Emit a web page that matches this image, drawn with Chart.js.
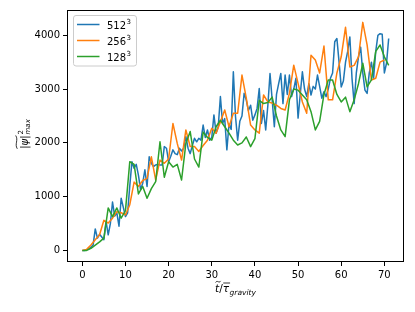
<!DOCTYPE html>
<html>
<head>
<meta charset="utf-8">
<script src="https://cdn.jsdelivr.net/npm/chart.js@4.4.1/dist/chart.umd.min.js"></script>
<style>
	html, body { margin: 0; padding: 0; background: #fff; }
</style>
</head>
<body>
<canvas id="chart" width="415" height="312"></canvas>
<script>
// series labels (resolution, drawn with a superscript 3)
const seriesNames = ['512', '256', '128'];
const seriesColors = ['#1f77b4', '#ff7f0e', '#2ca02c'];

// time step of each run
const step512 = 0.5;
const step256 = 1;
const step128 = 1;

// |psi|^2 max
const values512 = [
	0, 0, 10, 30, 60, 100, 400, 230, 300, 250,
	200, 540, 290, 500, 900, 640, 700, 450, 970, 800,
	630, 700, 1200, 1650, 1530, 1600, 1400, 1130, 1250, 1500,
	1190, 1740, 1620, 1560, 1590, 1600, 1590, 1590, 1930, 1900,
	1650, 1750, 1870, 1800, 1780, 1900, 1850, 1900, 2115, 1900,
	1800, 1950, 2085, 2020, 2085, 2050, 2330, 2100, 2240, 2050,
	2100, 2520, 2180, 2300, 2860, 2360, 2450, 1870, 2350, 2250,
	3320, 2490, 2050, 2400, 2500, 2920, 2795, 2600, 2700, 2420,
	2520, 2640, 3010, 2360, 2600, 2240, 2700, 3290, 2800, 2300,
	2900, 3100, 3290, 2730, 3260, 2900, 3260, 2860, 3000, 3200,
	2460, 2900, 3320, 3000, 2860, 3100, 2890, 3050, 3000, 3260,
	3050, 2830, 2950, 2860, 3000, 3200, 3300, 3880, 3940, 3500,
	3040, 3150, 3500, 3700, 3970, 3200, 2730, 3300, 3600, 3780,
	3300, 2980, 2920, 3300, 3500, 3200, 3700, 4000, 4030, 4020,
	3300, 3480, 3940,
];
const values256 = [
	0, 20, 100, 200, 290, 560, 510, 600, 720, 700,
	660, 850, 1270, 1190, 1300, 1340, 1740, 1310, 1680, 1620,
	1700, 2360, 1990, 1680, 2240, 1930, 1930, 1840, 1950, 2050,
	2270, 2180, 2390, 2610, 2300, 2550, 2550, 3260, 2830, 2330,
	2240, 2180, 2890, 2760, 2740, 2700, 2640, 2610, 2920, 3445,
	3105, 2760, 2550, 3630, 3540, 3300, 3800, 2800, 2800, 3300,
	3600, 4150, 3410, 3440, 3600, 4240, 3820, 3170, 3200, 3500,
	3540,
];
const values128 = [
	0, 0, 40, 100, 160, 230, 790, 630, 790, 600,
	740, 1650, 1600, 1050, 1190, 970, 1150, 1280, 2020, 1360,
	1650, 1550, 1600, 1310, 1990, 2210, 1700, 1550, 2200, 2100,
	2050, 2300, 2420, 2300, 2180, 2050, 1960, 2000, 2110, 1930,
	2080, 2790, 2730, 2750, 2850, 2500, 2240, 2115, 2800, 3000,
	2980, 2890, 2800, 2580, 2240, 2400, 2900, 3170, 3170, 2900,
	2760, 2850, 2580, 2800, 3100, 3480, 3040, 3170, 3700, 3820,
	3600, 3440,
];

const xTicks = [0, 10, 20, 30, 40, 50, 60, 70];
const yTicks = [0, 1000, 2000, 3000, 4000];

const FONT = 'DejaVu Sans';

function toPoints(vals, dt) {
	return vals.map((v, i) => ({ x: i * dt, y: v }));
}

// tilde drawn as a small wave
function tilde(ctx, x0, x1, y) {
	const w = x1 - x0;
	ctx.beginPath();
	ctx.moveTo(x0, y + 0.8);
	ctx.bezierCurveTo(x0 + w * 0.35, y - 2.2, x0 + w * 0.65, y + 2.2, x1, y - 0.8);
	ctx.stroke();
}

const decorations = {
	id: 'decorations',
	afterDatasetsDraw(chart) {
		const ctx = chart.ctx;
		const a = chart.chartArea;
		ctx.save();

		// frame
		ctx.strokeStyle = '#000';
		ctx.lineWidth = 1;
		ctx.strokeRect(Math.round(a.left) + 0.5, Math.round(a.top) + 0.5,
			Math.round(a.right - a.left) - 1, Math.round(a.bottom - a.top) - 1);

		// legend
		const lx = 73.5, ly = 15.5, lw = 63, lh = 50.5;
		ctx.beginPath();
		ctx.roundRect(lx, ly, lw, lh, 2.5);
		ctx.fillStyle = 'rgba(255,255,255,0.8)';
		ctx.fill();
		ctx.strokeStyle = '#cccccc';
		ctx.lineWidth = 1;
		ctx.stroke();
		chart.data.datasets.forEach((ds, i) => {
			const y = 24.5 + i * 16;
			ctx.strokeStyle = ds.borderColor;
			ctx.lineWidth = 1.5;
			ctx.beginPath();
			ctx.moveTo(77, y);
			ctx.lineTo(99.5, y);
			ctx.stroke();
			ctx.fillStyle = '#000';
			ctx.textAlign = 'left';
			ctx.textBaseline = 'alphabetic';
			ctx.font = '10px ' + FONT;
			ctx.fillText(ds.label, 107, y + 4.3);
			const w = ctx.measureText(ds.label).width;
			ctx.font = '7px ' + FONT;
			ctx.fillText('3', 107 + w + 0.5, y - 0.2);
		});

		// x axis title
		ctx.fillStyle = '#000';
		ctx.strokeStyle = '#000';
		ctx.lineWidth = 0.8;
		ctx.textBaseline = 'alphabetic';
		ctx.textAlign = 'left';
		const fMain = 'italic 10.5px ' + FONT;
		const fUp = '10.5px ' + FONT;
		const fSub = 'italic 7.5px ' + FONT;
		ctx.font = fMain;
		const wt = ctx.measureText('t').width;
		const wtau = ctx.measureText('τ').width;
		ctx.font = fUp;
		const wsl = ctx.measureText('/').width;
		ctx.font = fSub;
		const wg = ctx.measureText('gravity').width;
		const total = wt + wsl + wtau + wg + 0.5;
		let x = (a.left + a.right) / 2 - total / 2;
		const by = 291.5;
		ctx.font = fMain;
		ctx.fillText('t', x, by);
		tilde(ctx, x + 0.5, x + wt + 1.5, by - 9.8);
		x += wt;
		ctx.font = fUp;
		ctx.fillText('/', x, by);
		x += wsl;
		ctx.font = fMain;
		ctx.fillText('τ', x, by);
		ctx.beginPath();
		ctx.moveTo(x + 0.5, by - 8.5);
		ctx.lineTo(x + wtau + 1, by - 8.5);
		ctx.stroke();
		x += wtau + 0.5;
		ctx.font = fSub;
		ctx.fillText('gravity', x, by + 3.2);

		// y axis title, rotated
		ctx.save();
		ctx.translate(27.5, (a.top + a.bottom) / 2 - 2);
		ctx.rotate(-Math.PI / 2);
		const yMain = '10px ' + FONT;
		const yPsi = 'italic 10px ' + FONT;
		const ySub = 'italic 7px ' + FONT;
		const ySup = '7px ' + FONT;
		ctx.font = yMain;
		const wb = ctx.measureText('|').width;
		ctx.font = yPsi;
		const wp = ctx.measureText('ψ').width;
		ctx.font = ySub;
		const wm = ctx.measureText('max').width;
		const tot = wb * 2 + wp + 1 + wm;
		let u = -tot / 2;
		const u0 = u;
		ctx.font = yMain;
		ctx.fillText('|', u, 0);
		u += wb;
		ctx.font = yPsi;
		ctx.fillText('ψ', u, 0);
		u += wp;
		ctx.font = yMain;
		ctx.fillText('|', u, 0);
		u += wb;
		tilde(ctx, u0, u, -11);
		u += 1;
		ctx.font = ySup;
		ctx.fillText('2', u, -5);
		ctx.font = ySub;
		ctx.fillText('max', u, 2.8);
		ctx.restore();

		ctx.restore();
	},
};

const ctx = document.getElementById('chart').getContext('2d');
const myChart = new Chart(ctx, {
	type: 'line',
	data: {
		datasets: [
			{
				label: seriesNames[0],
				data: toPoints(values512, step512),
				borderColor: seriesColors[0],
				order: 3,
			},
			{
				label: seriesNames[1],
				data: toPoints(values256, step256),
				borderColor: seriesColors[1],
				order: 2,
			},
			{
				label: seriesNames[2],
				data: toPoints(values128, step128),
				borderColor: seriesColors[2],
				order: 1,
			},
		],
	},
	options: {
		responsive: false,
		animation: false,
		devicePixelRatio: 1,
		layout: { padding: { top: 10, right: 11, left: 0, bottom: 0 } },
		elements: {
			point: { radius: 0 },
			line: { borderWidth: 1.5, tension: 0, fill: false, borderJoinStyle: 'round' },
		},
		plugins: {
			legend: { display: false },
			tooltip: { enabled: false },
		},
		scales: {
			x: {
				type: 'linear',
				min: -3.55,
				max: 74.55,
				afterBuildTicks: (scale) => { scale.ticks = xTicks.map(v => ({ value: v })); },
				afterFit: (scale) => { scale.height = 50; },
				border: { display: false },
				grid: { drawOnChartArea: false, drawTicks: true, tickLength: 4, tickColor: '#000' },
				ticks: {
					color: '#000',
					padding: 3,
					autoSkip: false,
					maxRotation: 0,
					font: { family: FONT, size: 10 },
					callback: v => String(v),
				},
			},
			y: {
				type: 'linear',
				min: -215,
				max: 4470,
				afterBuildTicks: (scale) => { scale.ticks = yTicks.map(v => ({ value: v })); },
				afterFit: (scale) => { scale.width = 67; },
				border: { display: false },
				grid: { drawOnChartArea: false, drawTicks: true, tickLength: 4, tickColor: '#000' },
				ticks: {
					color: '#000',
					padding: 3,
					autoSkip: false,
					font: { family: FONT, size: 10 },
					callback: v => String(v),
				},
			},
		},
	},
	plugins: [decorations],
});
</script>
</body>
</html>
